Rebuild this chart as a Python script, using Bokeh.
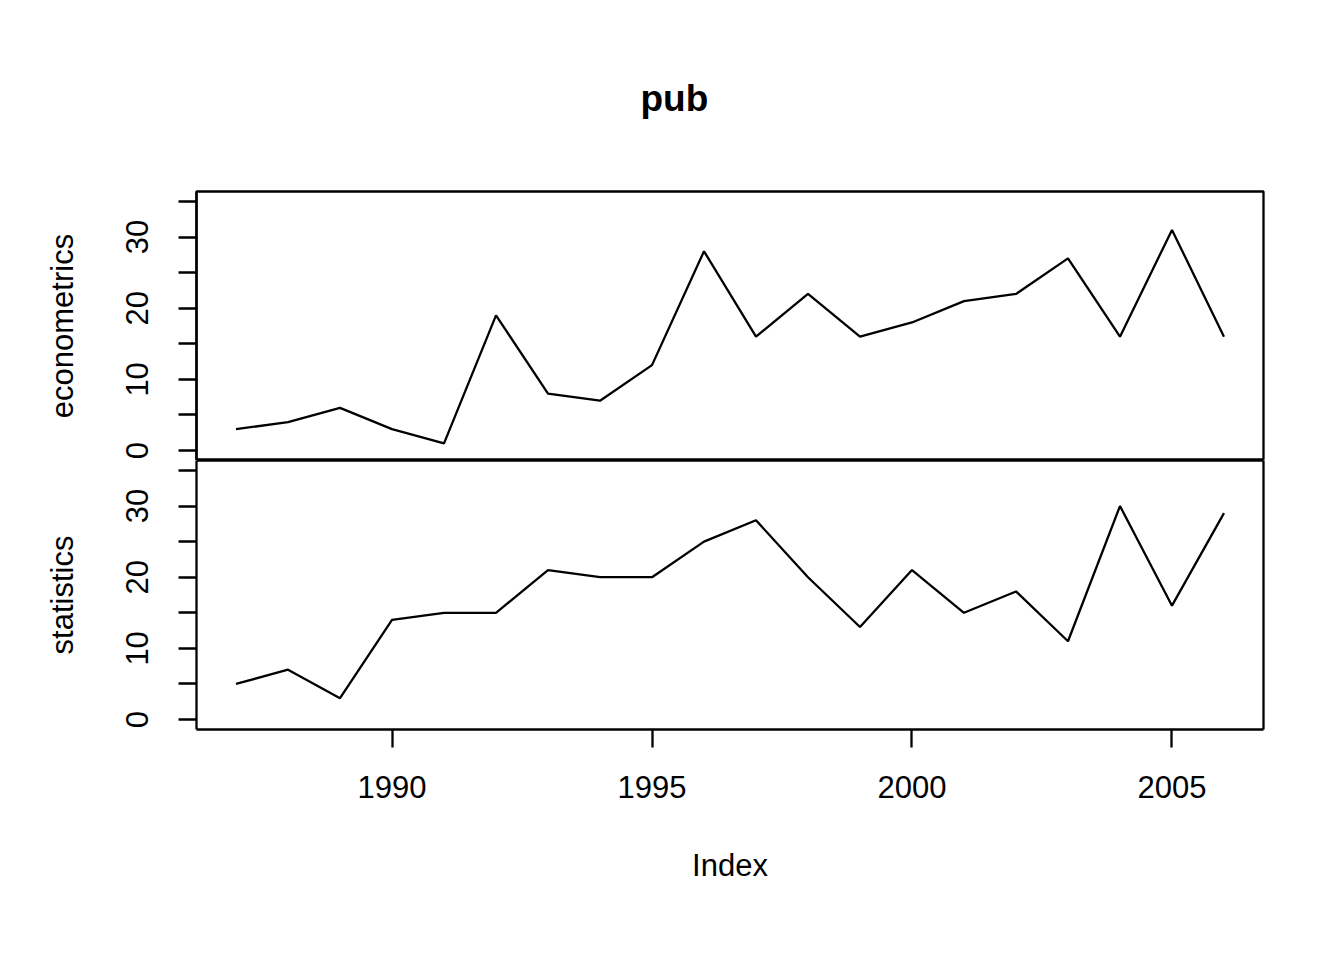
import math
from bokeh.plotting import figure
from bokeh.models import Range1d, FixedTicker, LinearAxis
from bokeh.layouts import column
from bokeh.embed import file_html
from bokeh.resources import INLINE

years = list(range(1987, 2007))
econometrics = [3, 4, 6, 3, 1, 19, 8, 7, 12, 28, 16, 22, 16, 18, 21, 22, 27, 16, 31, 16]
statistics = [5, 7, 3, 14, 15, 15, 21, 20, 20, 25, 28, 20, 13, 21, 15, 18, 11, 30, 16, 29]
x_ticks = [1990, 1995, 2000, 2005]
y_ticks = [0, 5, 10, 15, 20, 25, 30, 35]
y_tick_labels = ["0", "", "10", "", "20", "", "30", ""]

FONT = "Liberation Sans"
FS = "31px"
W = 1328
LW = 2.3

x0, x1 = min(years), max(years)
dx = (x1 - x0) * 0.04
xr = Range1d(x0 - dx, x1 + dx)
y_lo, y_hi = 0, 35
dy = (y_hi - y_lo) * 0.04


def style_y(ax, label):
    ax.ticker = FixedTicker(ticks=y_ticks)
    ax.major_label_overrides = {t: l for t, l in zip(y_ticks, y_tick_labels)}
    ax.major_label_orientation = "vertical"
    ax.major_label_text_font = FONT
    ax.major_label_text_font_size = FS
    ax.major_label_text_color = "black"
    ax.major_label_standoff = 30
    ax.major_tick_out = 18
    ax.major_tick_in = 0
    ax.major_tick_line_width = LW
    ax.major_tick_line_color = "black"
    ax.minor_tick_line_color = None
    ax.axis_line_color = "black"
    ax.axis_line_width = LW
    ax.axis_label = label
    ax.axis_label_text_font = FONT
    ax.axis_label_text_font_size = FS
    ax.axis_label_text_font_style = "normal"
    ax.axis_label_text_color = "black"
    ax.axis_label_standoff = 44


def blank_axis():
    a = LinearAxis(ticker=FixedTicker(ticks=[]))
    a.major_tick_line_color = None
    a.minor_tick_line_color = None
    a.major_tick_out = 0
    a.major_label_standoff = 0
    a.major_label_text_font_size = "0px"
    a.major_label_text_color = None
    a.axis_line_color = "black"
    a.axis_line_width = LW
    return a


def base_fig(height, top, bottom):
    p = figure(width=W, height=height, x_range=xr,
               y_range=Range1d(y_lo - dy, y_hi + dy),
               output_backend="svg", toolbar_location=None,
               x_axis_location=None, y_axis_location="left",
               min_border_left=196, min_border_right=65,
               min_border_top=top, min_border_bottom=bottom)
    p.grid.visible = False
    p.background_fill_color = "white"
    p.border_fill_color = "white"
    return p


# top panel
p1 = base_fig(460, 191, 0)
p1.outline_line_color = "black"
p1.outline_line_width = LW
style_y(p1.yaxis[0], "econometrics")
p1.line(years, econometrics, line_color="black", line_width=LW)
p1.title.text = "pub"
p1.title.align = "left"
p1.title.offset = 444
p1.title.text_font = FONT
p1.title.text_font_size = "37px"
p1.title.text_font_style = "bold"
p1.title.text_color = "black"
p1.title.standoff = 146

# bottom panel
p2 = base_fig(484, 0, 215)
p2.outline_line_color = None
style_y(p2.yaxis[0], "statistics")
xa = LinearAxis(ticker=FixedTicker(ticks=x_ticks))
xa.major_label_text_font = FONT
xa.major_label_text_font_size = FS
xa.major_label_text_color = "black"
xa.major_label_standoff = 28
xa.major_tick_out = 18
xa.major_tick_in = 0
xa.major_tick_line_width = LW
xa.major_tick_line_color = "black"
xa.minor_tick_line_color = None
xa.axis_line_color = "black"
xa.axis_line_width = LW
xa.axis_label = "Index"
xa.axis_label_text_font = FONT
xa.axis_label_text_font_size = FS
xa.axis_label_text_font_style = "normal"
xa.axis_label_text_color = "black"
xa.axis_label_standoff = 47
p2.add_layout(xa, "below")
p2.add_layout(blank_axis(), "right")
p2.add_layout(blank_axis(), "above")
p2.line(years, statistics, line_color="black", line_width=LW)

layout = column(p1, p2, spacing=0)
open("out.html", "w").write(file_html(layout, INLINE))
